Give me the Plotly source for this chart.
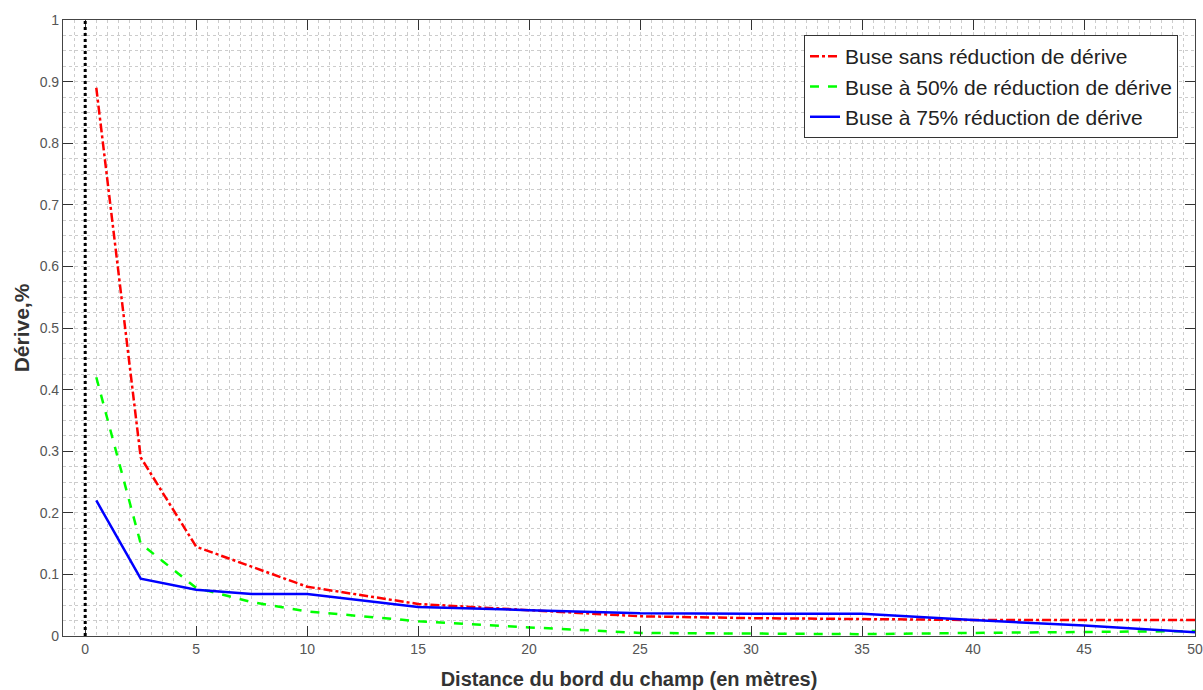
import plotly.graph_objects as go

distance = [0.5, 2.5, 5, 7.5, 10, 15, 20, 25, 30, 35, 40, 45, 50]
derive_sans = [0.89, 0.29, 0.145, 0.112, 0.080, 0.052, 0.042, 0.032, 0.029, 0.027, 0.026, 0.026, 0.026]
derive_50 = [0.42, 0.15, 0.078, 0.055, 0.040, 0.024, 0.014, 0.005, 0.004, 0.003, 0.005, 0.006, 0.008]
derive_75 = [0.22, 0.093, 0.075, 0.068, 0.068, 0.047, 0.042, 0.037, 0.036, 0.036, 0.026, 0.017, 0.006]

names = ["Buse sans réduction de dérive",
         "Buse à 50% de réduction de dérive",
         "Buse à 75% réduction de dérive"]
x_ticks = [0, 5, 10, 15, 20, 25, 30, 35, 40, 45, 50]
y_ticks = [0, 0.1, 0.2, 0.3, 0.4, 0.5, 0.6, 0.7, 0.8, 0.9, 1]

FONT = "Liberation Sans, Arial, Helvetica, sans-serif"

fig = go.Figure()
fig.add_trace(go.Scatter(x=distance, y=derive_sans, mode="lines", name=names[0],
                         line=dict(color="#ff0000", width=2.5, dash="dashdot")))
fig.add_trace(go.Scatter(x=distance, y=derive_50, mode="lines", name=names[1],
                         line=dict(color="#00ff00", width=2.5, dash="dash")))
fig.add_trace(go.Scatter(x=distance, y=derive_75, mode="lines", name=names[2],
                         line=dict(color="#0000ff", width=2.5)))

fig.add_vline(x=0, line=dict(color="black", width=3, dash="dot"))

grid_color = "#cccccc"
axis_common = dict(
    showline=True, linecolor="#444444", linewidth=1.2, mirror="ticks",
    ticks="inside", ticklen=10, tickcolor="#333333", tickwidth=1.2,
    showgrid=True, gridcolor=grid_color, griddash="dot", gridwidth=1,
    zeroline=False,
    tickfont=dict(family=FONT, size=14, color="#555555"),
)

fig.update_xaxes(
    range=[-1, 50], tickvals=x_ticks, ticktext=[str(v) for v in x_ticks],
    minor=dict(dtick=0.5, showgrid=True, gridcolor=grid_color, griddash="dot", gridwidth=1),
    title=dict(text="<b>Distance du bord du champ (en mètres)</b>",
               font=dict(family=FONT, size=20, color="#333333"), standoff=16),
    automargin=False,
    **axis_common,
)
fig.update_yaxes(
    range=[0, 1], tickvals=y_ticks, ticktext=[("%g" % v) for v in y_ticks],
    minor=dict(dtick=0.025, showgrid=True, gridcolor=grid_color, griddash="dot", gridwidth=1),
    title=dict(text="<b>Dérive,%</b>",
               font=dict(family=FONT, size=21, color="#333333"), standoff=4),
    automargin=False,
    **axis_common,
)

fig.update_layout(
    width=1203, height=690,
    margin=dict(l=63, r=8, t=20, b=54),
    plot_bgcolor="white", paper_bgcolor="white",
    font=dict(family=FONT),
    legend=dict(
        x=0.6546, y=0.9756, xanchor="left", yanchor="top",
        bgcolor="white", bordercolor="#333333", borderwidth=1,
        font=dict(family=FONT, size=21, color="#222222"),
        tracegroupgap=0, itemwidth=30,
    ),
    showlegend=True,
)

fig.write_html("out.html", config={"displayModeBar": False},
               post_script="document.body.style.margin='0';document.body.style.overflow='hidden';")
